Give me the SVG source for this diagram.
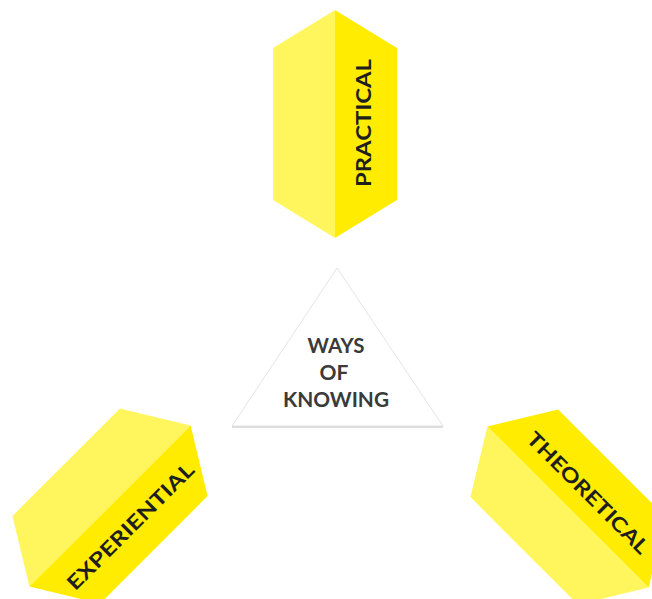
<svg xmlns="http://www.w3.org/2000/svg" width="652" height="599" viewBox="0 0 652 599">
  <defs>
    <style>
      .light { fill: #FFF65E; }
      .dark { fill: #FFEC00; }
      .label { font-family: Lato, "Liberation Sans", sans-serif; font-weight: 700; font-size: 20px; fill: #1e1e1e; text-anchor: middle; }
      .center { font-family: Lato, "Liberation Sans", sans-serif; font-weight: 700; font-size: 21px; fill: #3a3a3a; text-anchor: middle; }
    </style>
    <g id="prism">
      <polygon class="light" points="0,-114 -62,-76 -62,76 0,114"/>
      <polygon class="dark" points="0,-114 62,-76 62,76 0,114"/>
    </g>
  </defs>
  <rect width="652" height="599" fill="#ffffff"/>
  <g id="connectors"></g>
  <g id="practical" transform="translate(335,124)">
    <use href="#prism"/>
    <text class="label" transform="translate(36,-1) rotate(-90)" textLength="128" lengthAdjust="spacingAndGlyphs">PRACTICAL</text>
  </g>
  <g id="experiential" transform="translate(110,506) rotate(45)">
    <use href="#prism"/>
    <text class="label" transform="translate(36,0) rotate(-90)" textLength="170" lengthAdjust="spacingAndGlyphs">EXPERIENTIAL</text>
  </g>
  <g id="theoretical" transform="translate(568,507) rotate(-45)">
    <use href="#prism"/>
    <text class="label" transform="translate(17,4) rotate(90)" textLength="163" lengthAdjust="spacingAndGlyphs">THEORETICAL</text>
  </g>
  <g id="ways-of-knowing">
    <polygon points="337,268 232,426 443,426" fill="#ffffff" stroke="#dcdcdc" stroke-width="0.8"/>
    <line x1="232" y1="427" x2="443" y2="427" stroke="#d4d4d4" stroke-width="1.5"/>
    <text class="center" x="336" y="353" textLength="57" lengthAdjust="spacingAndGlyphs">WAYS</text>
    <text class="center" x="334" y="380">OF</text>
    <text class="center" x="336" y="407" textLength="106" lengthAdjust="spacingAndGlyphs">KNOWING</text>
  </g>
</svg>
